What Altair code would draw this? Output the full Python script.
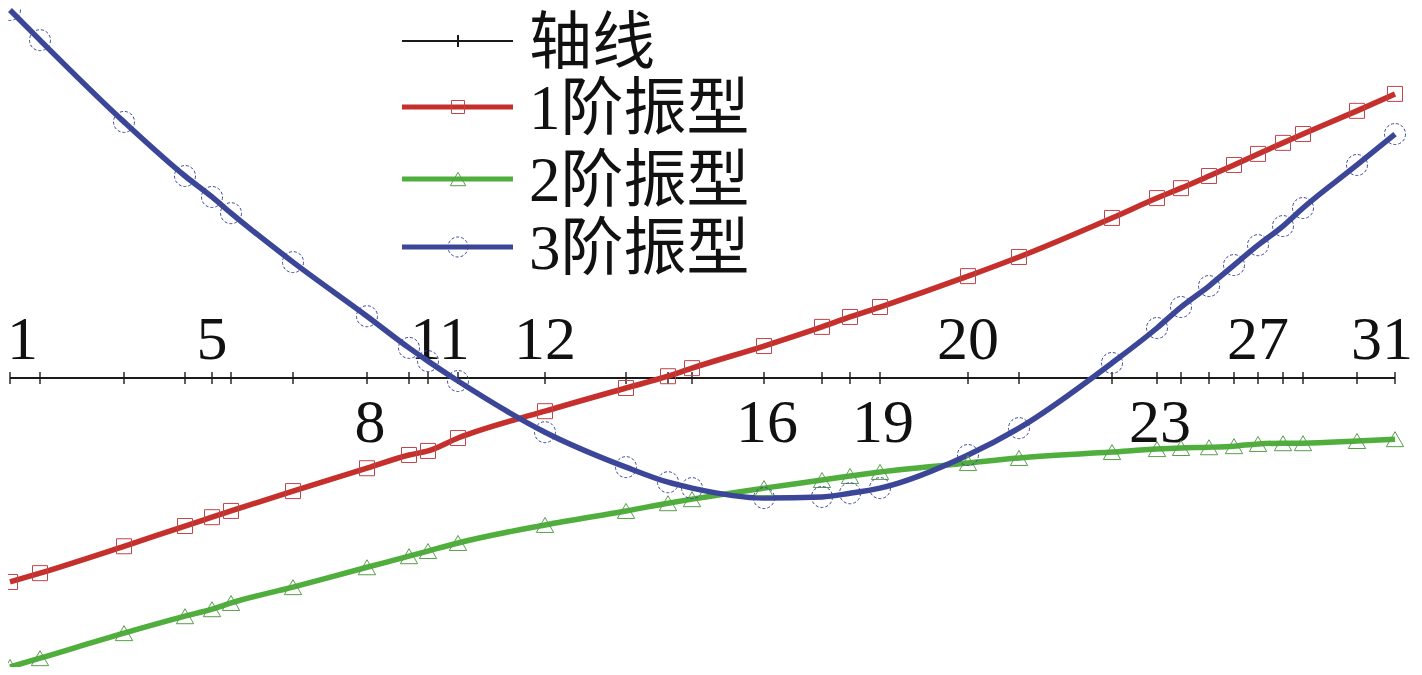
import altair as alt
import pandas as pd

# ---- data ----
nodes = list(range(1, 32))
# station position of each node along the axis (arbitrary length units)
positions = [0.0, 3.0, 11.4, 17.5, 20.2, 22.1, 28.3, 35.7, 39.9, 41.8, 44.8,
             53.5, 61.6, 65.8, 68.2, 75.4, 81.2, 84.0, 87.0, 95.8, 100.9,
             110.2, 114.7, 117.1, 119.9, 122.4, 124.8, 127.3, 129.3, 134.7, 138.5]
mode1 = [-0.554, -0.530, -0.457, -0.402, -0.378, -0.361, -0.307, -0.245, -0.209,
         -0.198, -0.163, -0.090, -0.027, 0.005, 0.027, 0.087, 0.139, 0.166,
         0.193, 0.277, 0.329, 0.435, 0.489, 0.516, 0.549, 0.579, 0.609, 0.639,
         0.663, 0.726, 0.772]
mode2 = [-0.785, -0.761, -0.693, -0.647, -0.628, -0.611, -0.568, -0.514, -0.484,
         -0.470, -0.448, -0.399, -0.361, -0.340, -0.329, -0.299, -0.277, -0.266,
         -0.255, -0.231, -0.217, -0.201, -0.193, -0.190, -0.188, -0.185, -0.179,
         -0.177, -0.177, -0.171, -0.166]
mode3 = [1.000, 0.918, 0.696, 0.549, 0.492, 0.448, 0.315, 0.168, 0.082, 0.046,
         -0.008, -0.147, -0.242, -0.283, -0.299, -0.326, -0.323, -0.313, -0.299,
         -0.209, -0.136, 0.041, 0.136, 0.193, 0.250, 0.307, 0.361, 0.413, 0.462,
         0.579, 0.663]
labels_above = [1, 5, 11, 12, 20, 27, 31]
labels_below = [8, 16, 19, 23]
series_names = ["轴线", "1阶振型", "2阶振型", "3阶振型"]
series_colors = ["#1a1a1a", "#c6302c", "#4fae3c", "#3b4698"]
marker_colors = ["#1a1a1a", "#c0454a", "#5a9e4c", "#3b4698"]

# ---- tables ----
df = pd.DataFrame({"node": nodes, "pos": positions, "axis": [0.0] * len(nodes),
                   "m1": mode1, "m2": mode2, "m3": mode3})
pos_of = dict(zip(nodes, positions))
lab = pd.DataFrame({
    "node": labels_above + labels_below,
    "pos": [pos_of[n] for n in labels_above + labels_below],
    "side": ["above"] * len(labels_above) + ["below"] * len(labels_below),
    "zero": 0.0,
})
lab["label"] = lab["node"].astype(str)
legend_df = pd.DataFrame({"series": series_names})

xs = alt.Scale(domain=[0, 138.5], nice=False, zero=False)
ys = alt.Scale(domain=[-0.785, 1.0], nice=False, zero=False)
X = alt.X("pos:Q", scale=xs, axis=None)

def Y(col):
    return alt.Y(f"{col}:Q", scale=ys, axis=None)

NUMFONT = "Liberation Serif"
base = alt.Chart(df)
layers = []

# axis line with node ticks
layers.append(base.mark_line(color="#1a1a1a", strokeWidth=2).encode(x=X, y=Y("axis")))
layers.append(base.mark_tick(orient="vertical", size=12, thickness=2, color="#1a1a1a")
              .encode(x=X, y=Y("axis")))

# node labels
lbase = alt.Chart(lab)
txt = dict(font=NUMFONT, fontSize=62, baseline="alphabetic", color="#111111")
lenc = dict(x=alt.X("pos:Q", scale=xs, axis=None), y=Y("zero"), text="label:N")
layers.append(lbase.transform_filter("datum.side == 'above' && datum.node != 11 && datum.node != 1 && datum.node != 31")
              .mark_text(dy=-19, **txt).encode(**lenc))
layers.append(lbase.transform_filter("datum.node == 11")
              .mark_text(dy=-19, dx=-18, **txt).encode(**lenc))
layers.append(lbase.transform_filter("datum.node == 1")
              .mark_text(dy=-19, dx=-3, align="left", **txt).encode(**lenc))
layers.append(lbase.transform_filter("datum.node == 31")
              .mark_text(dy=-19, dx=18, align="right", **txt).encode(**lenc))
layers.append(lbase.transform_filter("datum.side == 'below'")
              .mark_text(dy=64, dx=3, **txt).encode(**lenc))

# mode shapes
specs = [("m1", 1, "square", 225, None),
         ("m2", 2, "triangle-up", 300, None),
         ("m3", 3, "circle", 440, [3, 2])]
for col, i, shape, size, dash in specs:
    layers.append(base.mark_line(color=series_colors[i], strokeWidth=5.5,
                                 interpolate="monotone").encode(x=X, y=Y(col)))
for col, i, shape, size, dash in specs:
    kw = dict(shape=shape, size=size, filled=False, color=marker_colors[i],
              strokeWidth=1, opacity=1)
    if dash:
        kw["strokeDash"] = dash
    layers.append(base.mark_point(**kw).encode(x=X, y=Y(col)))

# legend (drawn manually to show line + marker)
rows = [31, 97, 169, 237]
leg_shapes = ["M0,-1V1", "square", "triangle-up", "circle"]
leg_sizes = [144, 170, 240, 400]
for i, name in enumerate(series_names):
    lb = alt.Chart(legend_df).transform_filter(alt.datum.series == name)
    layers.append(lb.mark_rule(color=series_colors[i], strokeWidth=2 if i == 0 else 5)
                  .encode(x=alt.value(392), x2=alt.value(503), y=alt.value(rows[i])))
    kw = dict(shape=leg_shapes[i], size=leg_sizes[i], filled=False,
              color=marker_colors[i], strokeWidth=2 if i == 0 else 1, opacity=1)
    if i == 3:
        kw["strokeDash"] = [3, 2]
    layers.append(lb.mark_point(**kw).encode(x=alt.value(448), y=alt.value(rows[i])))
    layers.append(lb.mark_text(align="left", baseline="middle", fontSize=63,
                               font="Liberation Serif, Noto Sans CJK SC", color="#111111")
                  .encode(x=alt.value(519), y=alt.value(rows[i] + 3), text="series:N"))

chart = alt.layer(*layers).properties(
    width=1385, height=657,
    padding={"left": 2, "top": 2, "right": 19, "bottom": 0},
    autosize=alt.AutoSizeParams(type="none"),
    background="white",
).configure_view(stroke=None)

chart.save("out.html", embed_options={"renderer": "svg", "actions": False})
